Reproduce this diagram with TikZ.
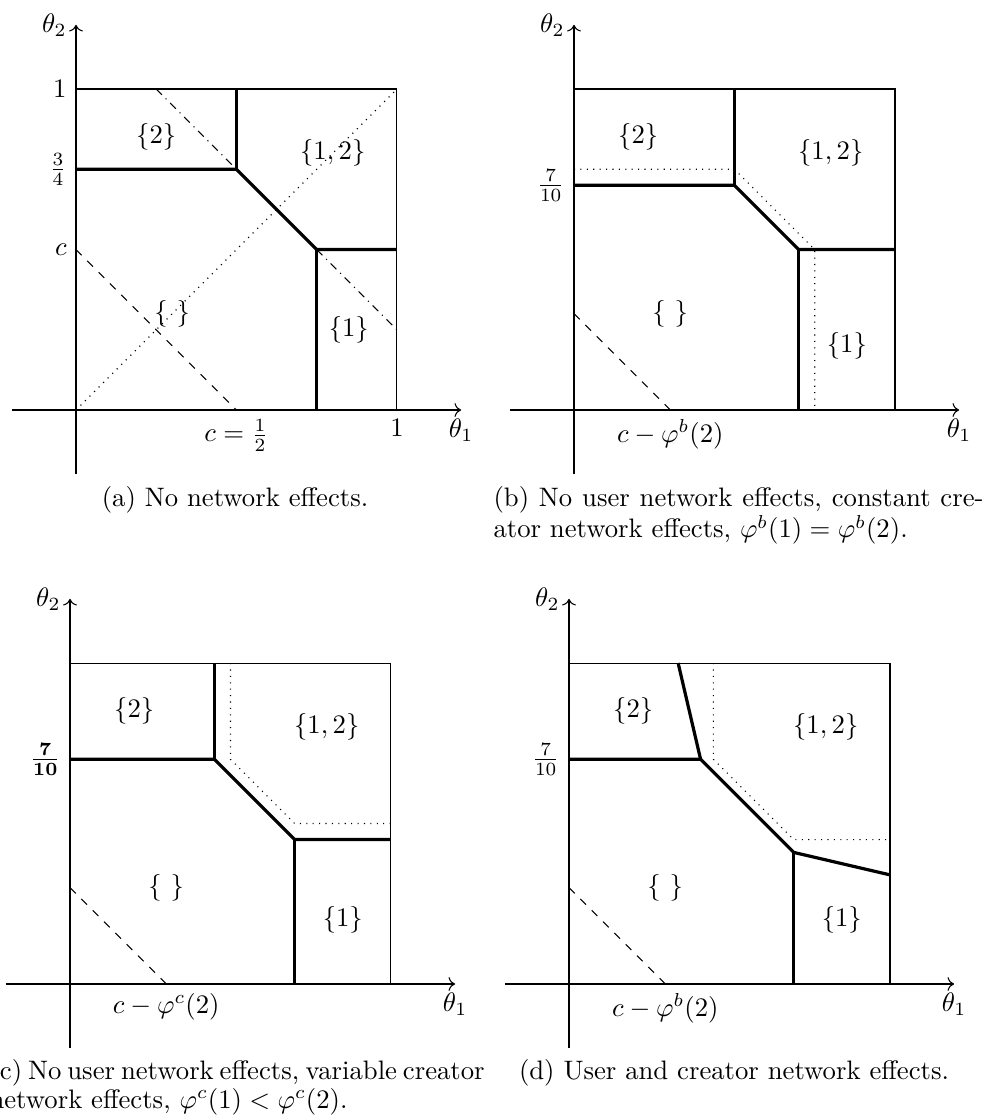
\documentclass[tikz,border=0pt]{standalone}
\usepackage{amsmath}
\usepackage{amssymb}
\usepackage{tikz}
\usetikzlibrary{arrows.meta}

\begin{document}
\begin{tikzpicture}[x=0.3745pt, y=0.3745pt,
    eixo/.style={->},
    fronteira/.style={very thick},
    antiga/.style={dotted},
    legenda/.style={anchor=west, inner sep=0pt}]
  \useasboundingbox (0,0) rectangle (988,1119);

  % (a) sem efeitos de rede
  \begin{scope}[shift={(76,709)}, x=120.2pt, y=120.2pt]
    \draw[eixo] (-0.2,0) -- (1.2,0) node[below] (a-t1) {$\theta_1$};
    \draw[eixo] (0,-0.2) -- (0,1.2) node[left] (a-t2) {$\theta_2$};
    \draw (0,0) rectangle (1,1);
    \draw[dotted] (0,0) -- (1,1);
    \draw[dashed] (0,0.5) -- (0.5,0);
    \draw[dash dot] (0.25,1) -- (0.5,0.75);
    \draw[dash dot] (0.75,0.5) -- (1,0.25);
    % fronteiras
    \draw[fronteira] (0,0.75) -- (0.5,0.75) -- (0.75,0.5) -- (1,0.5);
    \draw[fronteira] (0.5,1) -- (0.5,0.75);
    \draw[fronteira] (0.75,0.5) -- (0.75,0);
    % marcas nos eixos
    \node[left] (a-um2) at (0,1) {$1$};
    \node[left] (a-tq) at (0,0.75) {$\frac{3}{4}$};
    \node[left] (a-c) at (0,0.5) {$c$};
    \node[below] (a-meio) at (0.5,0) {$c = \frac{1}{2}$};
    \node[below] (a-um1) at (1,0) {$1$};
    % conjuntos
    \node (a-s2) at (0.25,0.85) {$\{2\}$};
    \node (a-s12) at (0.8,0.8) {$\{1,2\}$};
    \node (a-s0) at (0.3,0.3) {$\{\ \}$};
    \node (a-s1) at (0.85,0.25) {$\{1\}$};
  \end{scope}
  \node (a-leg) at (235,619) {(a) No network effects.};

  % (b) efeitos de rede constantes
  \begin{scope}[shift={(574,709)}, x=120.2pt, y=120.2pt]
    \draw[eixo] (-0.2,0) -- (1.2,0) node[below] (b-t1) {$\theta_1$};
    \draw[eixo] (0,-0.2) -- (0,1.2) node[left] (b-t2) {$\theta_2$};
    \draw (0,0) rectangle (1,1);
    \draw[dashed] (0,0.3) -- (0.3,0);
    \draw[antiga] (0,0.75) -- (0.5,0.75) -- (0.75,0.5) -- (0.75,0);
    % fronteiras
    \draw[fronteira] (0,0.7) -- (0.5,0.7) -- (0.7,0.5) -- (1,0.5);
    \draw[fronteira] (0.5,1) -- (0.5,0.7);
    \draw[fronteira] (0.7,0.5) -- (0.7,0);
    \node[left] (b-sete) at (0,0.7) {$\frac{7}{10}$};
    \node[below] (b-cphi) at (0.3,0) {$c - \varphi^b(2)$};
    % conjuntos
    \node (b-s2) at (0.2,0.85) {$\{2\}$};
    \node (b-s12) at (0.8,0.8) {$\{1,2\}$};
    \node (b-s0) at (0.3,0.3) {$\{\ \}$};
    \node (b-s1) at (0.85,0.2) {$\{1\}$};
  \end{scope}
  \node[legenda] (b-leg1) at (493,619)
    {\makebox[183.5pt][s]{(b) No user network effects, constant cre-}};
  \node[legenda] (b-leg2) at (493,589)
    {ator network effects, $\varphi^b(1) = \varphi^b(2)$.};

  % (c) efeitos de rede variaveis
  \begin{scope}[shift={(70,135)}, x=120.2pt, y=120.2pt]
    \draw[eixo] (-0.2,0) -- (1.2,0) node[below] (c-t1) {$\theta_1$};
    \draw[eixo] (0,-0.2) -- (0,1.2) node[left] (c-t2) {$\theta_2$};
    \draw (0,0) rectangle (1,1);
    \draw[dashed] (0,0.3) -- (0.3,0);
    \draw[antiga] (0.5,1) -- (0.5,0.7) -- (0.7,0.5) -- (1,0.5);
    % fronteiras
    \draw[fronteira] (0,0.7) -- (0.45,0.7) -- (0.7,0.45) -- (1,0.45);
    \draw[fronteira] (0.45,1) -- (0.45,0.7);
    \draw[fronteira] (0.7,0.45) -- (0.7,0);
    \node[left] (c-sete) at (0,0.7) {$\mathbf{\frac{7}{10}}$};
    \node[below] (c-cphi) at (0.3,0) {$c - \varphi^c(2)$};
    % conjuntos
    \node (c-s2) at (0.2,0.85) {$\{2\}$};
    \node (c-s12) at (0.8,0.8) {$\{1,2\}$};
    \node (c-s0) at (0.3,0.3) {$\{\ \}$};
    \node (c-s1) at (0.85,0.2) {$\{1\}$};
  \end{scope}
  \node[legenda] (c-leg1) at (-11,46)
    {\makebox[184.6pt][s]{(c) No user network effects, variable creator}};
  \node[legenda] (c-leg2) at (-11,17)
    {network effects, $\varphi^c(1) < \varphi^c(2)$.};

  % (d) usuarios e criadores
  \begin{scope}[shift={(569,135)}, x=120.2pt, y=120.2pt]
    \draw[eixo] (-0.2,0) -- (1.2,0) node[below] (d-t1) {$\theta_1$};
    \draw[eixo] (0,-0.2) -- (0,1.2) node[left] (d-t2) {$\theta_2$};
    \draw (0,0) rectangle (1,1);
    \draw[dashed] (0,0.3) -- (0.3,0);
    \draw[antiga] (0.45,1) -- (0.45,0.7) -- (0.7,0.45) -- (1,0.45);
    % fronteiras
    \draw[fronteira] (0,0.7) -- (0.41,0.7) -- (0.7,0.41) -- (1,0.34);
    \draw[fronteira] (0.34,1) -- (0.41,0.7);
    \draw[fronteira] (0.7,0.41) -- (0.7,0);
    \node[left] (d-sete) at (0,0.7) {$\frac{7}{10}$};
    \node[below] (d-cphi) at (0.3,0) {$c - \varphi^b(2)$};
    % conjuntos
    \node (d-s2) at (0.2,0.85) {$\{2\}$};
    \node (d-s12) at (0.8,0.8) {$\{1,2\}$};
    \node (d-s0) at (0.3,0.3) {$\{\ \}$};
    \node (d-s1) at (0.85,0.2) {$\{1\}$};
  \end{scope}
  \node (d-leg) at (734,46) {(d) User and creator network effects.};
\end{tikzpicture}
\end{document}
